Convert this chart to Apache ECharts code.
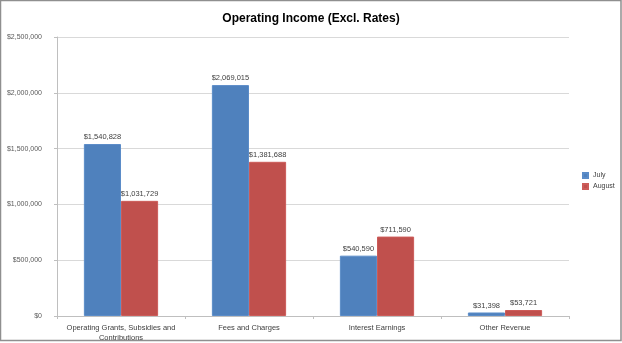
<!DOCTYPE html>
<html><head><meta charset="utf-8">
<script src="https://cdn.jsdelivr.net/npm/echarts@6/dist/echarts.min.js"></script>
<style>html,body{margin:0;padding:0;background:#fff}#c{width:622px;height:343px}</style>
</head><body><div id="c"></div>
<script>
var categories = ['Operating Grants, Subsidies and\nContributions', 'Fees and Charges', 'Interest Earnings', 'Other Revenue'];
var julyValues = [1540828, 2069015, 540590, 31398];
var augustValues = [1031729, 1381688, 711590, 53721];
var yTicks = [0, 500000, 1000000, 1500000, 2000000, 2500000];

function money(v){ return '$' + Math.round(v).toString().replace(/\B(?=(\d{3})+(?!\d))/g, ','); }
var chart = echarts.init(document.getElementById('c'));
var font = 'Liberation Sans';
chart.setOption({
  animation: false,
  backgroundColor: '#fff',
  title: { text: 'Operating Income (Excl. Rates)', left: 'center', top: 8,
    textStyle: { fontFamily: font, fontSize: 12, fontWeight: 'bold', color: '#000' } },
  graphic: [{ type: 'rect', shape: { x: 0.5, y: 0.5, width: 620.5, height: 340 }, silent: true,
    style: { fill: 'none', stroke: '#8f8f8f', lineWidth: 1.5 } }],
  legend: { orient: 'vertical', left: 582, top: 172, padding: 0, itemWidth: 5, itemHeight: 5, itemGap: 4,
    icon: 'rect', textStyle: { fontFamily: font, fontSize: 7, color: '#404040' } },
  grid: { left: 57, right: 53, top: 37, bottom: 27, containLabel: false },
  xAxis: { type: 'category', data: categories,
    axisLine: { lineStyle: { color: '#bfbfbf' } },
    axisTick: { show: true, length: 3, lineStyle: { color: '#bfbfbf' } },
    axisLabel: { fontFamily: font, fontSize: 7.5, color: '#404040', margin: 7, lineHeight: 10, interval: 0 } },
  yAxis: { type: 'value', min: yTicks[0], max: yTicks[yTicks.length-1], interval: yTicks[1]-yTicks[0],
    axisLine: { show: true, lineStyle: { color: '#bfbfbf' } },
    axisTick: { show: true, length: 3, lineStyle: { color: '#bfbfbf' } },
    splitLine: { lineStyle: { color: '#d9d9d9' } },
    axisLabel: { fontFamily: '"Liberation Sans Narrow", "Liberation Sans", sans-serif', fontSize: 7, color: '#595959', margin: 15, formatter: money } },
  series: [
    { name: 'July', type: 'bar', data: julyValues, barGap: '0%', barCategoryGap: '42%',
      itemStyle: { color: '#4f81bd', borderColor: '#5b8cc8', borderWidth: 1 },
      label: { show: true, position: 'top', distance: 3, fontFamily: font, fontSize: 7.5, color: '#404040',
        formatter: function(p){ return money(p.value); } } },
    { name: 'August', type: 'bar', data: augustValues,
      itemStyle: { color: '#c0504d', borderColor: '#cc5c59', borderWidth: 1 },
      label: { show: true, position: 'top', distance: 3, fontFamily: font, fontSize: 7.5, color: '#404040',
        formatter: function(p){ return money(p.value); } } }
  ]
});
</script></body></html>
